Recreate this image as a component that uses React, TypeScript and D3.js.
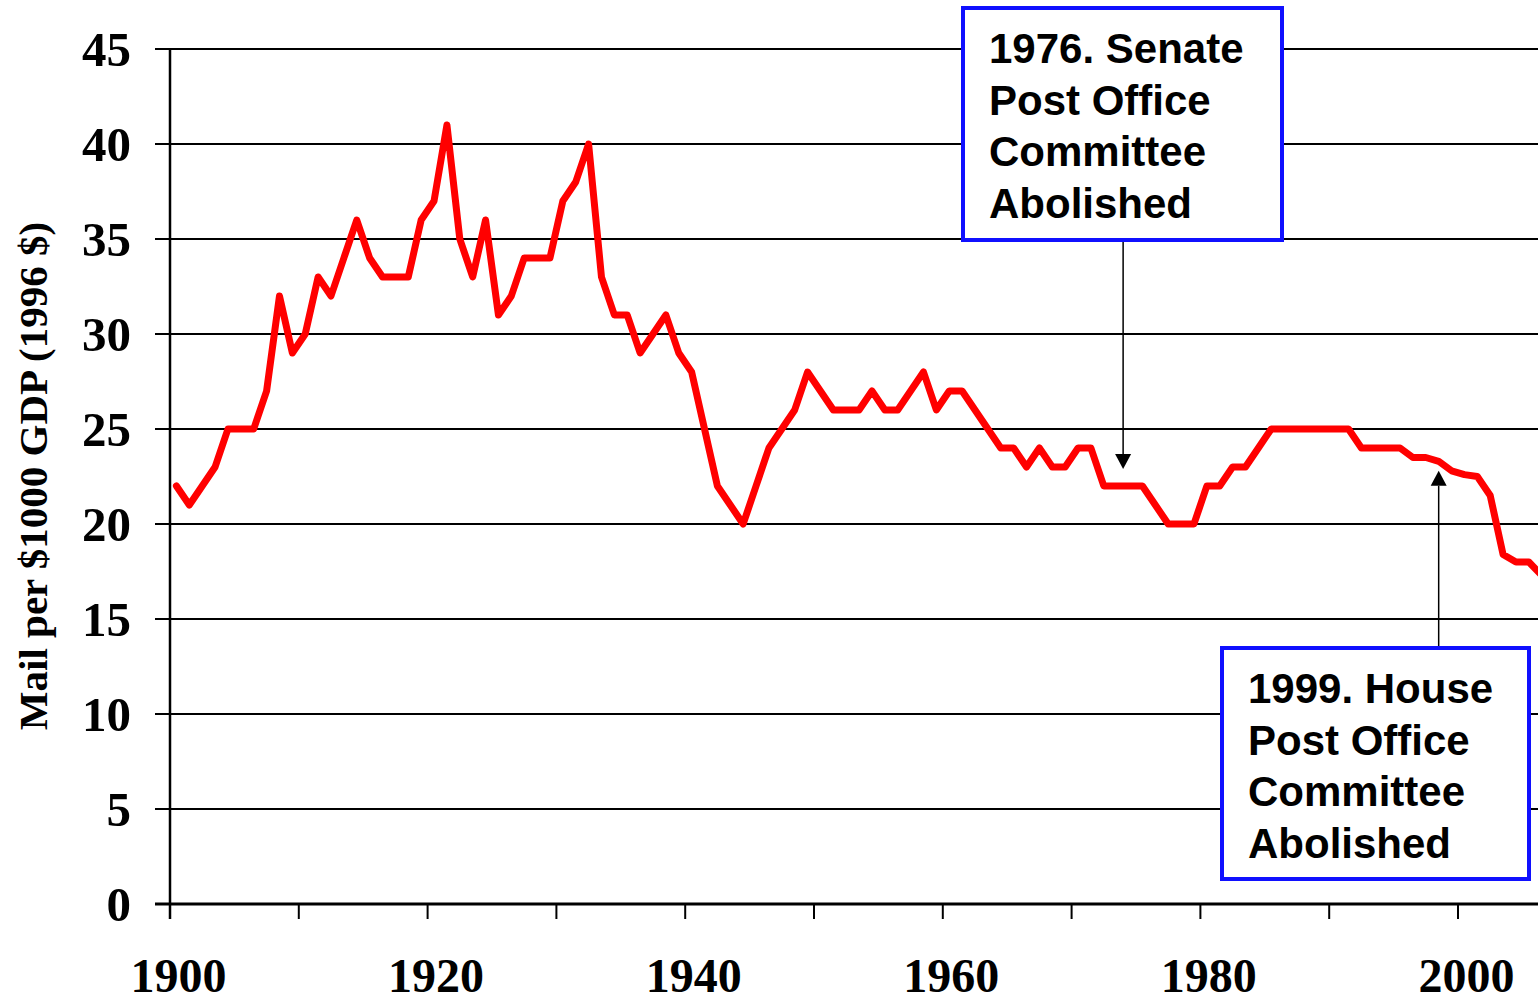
import React from 'react';
import * as d3 from 'd3';

// Mail volume per $1000 of GDP (1996 dollars), one value per year from 1900
const START_YEAR = 1900;
const mailPerGdp = [
  22, 21, 22, 23, 25, 25, 25, 27, 32, 29, // 1900s
  30, 33, 32, 34, 36, 34, 33, 33, 33, 36, // 1910s
  37, 41, 35, 33, 36, 31, 32, 34, 34, 34, // 1920s
  37, 38, 40, 33, 31, 31, 29, 30, 31, 29, // 1930s
  28, 25, 22, 21, 20, 22, 24, 25, 26, 28, // 1940s
  27, 26, 26, 26, 27, 26, 26, 27, 28, 26, // 1950s
  27, 27, 26, 25, 24, 24, 23, 24, 23, 23, // 1960s
  24, 24, 22, 22, 22, 22, 21, 20, 20, 20, // 1970s
  22, 22, 23, 23, 24, 25, 25, 25, 25, 25, // 1980s
  25, 25, 24, 24, 24, 24, 23.5, 23.5, 23.3, 22.8, // 1990s
  22.6, 22.5, 21.5, 18.4, 18, 18, 17.3, // 2000s
];
const years = d3.range(START_YEAR, START_YEAR + mailPerGdp.length);

const yTicks = [0, 5, 10, 15, 20, 25, 30, 35, 40, 45];
const xTickYears = [1900, 1910, 1920, 1930, 1940, 1950, 1960, 1970, 1980, 1990, 2000];
const xLabelYears = [1900, 1920, 1940, 1960, 1980, 2000];
const yTitle = 'Mail per $1000 GDP (1996 $)';

// call-out boxes: arrow tip sits on the line at (year, value)
const annotations = [
  { lines: ['1976. Senate', 'Post Office', 'Committee', 'Abolished'], year: 1974, edge: 'left', tipValue: 22.9, box: { x: 963, y: 8, w: 319, h: 232 }, dir: 'down' },
  { lines: ['1999. House', 'Post Office', 'Committee', 'Abolished'], year: 1998, edge: 'mid', tipValue: 22.8, box: { x: 1222, y: 648, w: 307, h: 231 }, dir: 'up' },
];

const W = 1538;
const H = 1000;
const LEFT = 170;
const STEP = 12.88; // px per year category

export default function App() {
  const x = d3.scaleBand<number>()
    .domain(years)
    .range([LEFT, LEFT + years.length * STEP])
    .paddingInner(0)
    .paddingOuter(0);
  const y = d3.scaleLinear().domain([0, 45]).range([904, 49]);

  const line = d3.line<number>()
    .x((_, i) => (x(years[i]) as number) + x.bandwidth() / 2)
    .y(d => y(d));

  const serif = '"Liberation Serif", "Times New Roman", serif';
  const sans = '"Liberation Sans", Arial, sans-serif';

  return (
    <svg width={W} height={H} style={{ position: 'absolute', left: 0, top: 0, background: '#fff' }}>
      {/* gridlines + y ticks */}
      {yTicks.map(t => (
        <g key={t}>
          {t > 0 && <line x1={LEFT - 15} x2={W} y1={y(t)} y2={y(t)} stroke="#000" strokeWidth={2} />}
          <text x={131} y={y(t)} dy="0.35em" textAnchor="end" fontFamily={serif} fontWeight="bold" fontSize={49}>{t}</text>
        </g>
      ))}

      {/* y axis */}
      <line x1={LEFT} x2={LEFT} y1={y(45)} y2={y(0) + 15} stroke="#000" strokeWidth={2.5} />
      {/* x axis */}
      <line x1={LEFT - 15} x2={W} y1={y(0)} y2={y(0)} stroke="#000" strokeWidth={3} />
      {xTickYears.map(yr => (
        <line key={yr} x1={x(yr)} x2={x(yr)} y1={y(0)} y2={y(0) + 15} stroke="#000" strokeWidth={2} />
      ))}
      {xLabelYears.map(yr => (
        <text key={yr} x={(x(yr) as number) + x.bandwidth() / 2 + 2} y={992} textAnchor="middle" fontFamily={serif} fontWeight="bold" fontSize={48}>{yr}</text>
      ))}

      <text transform={`translate(47,476) rotate(-90)`} textAnchor="middle" fontFamily={serif} fontWeight="bold" fontSize={41}>{yTitle}</text>

      {/* data line */}
      <path d={line(mailPerGdp) || ''} fill="none" stroke="#ff0000" strokeWidth={7} strokeLinejoin="round" strokeLinecap="round" />

      {/* annotations */}
      {annotations.map((a, i) => {
        const ax = (x(a.year) as number) + (a.edge === 'mid' ? x.bandwidth() / 2 : 0);
        const tipY = y(a.tipValue);
        const startY = a.dir === 'down' ? a.box.y + a.box.h : a.box.y;
        const headH = 15;
        const headW = 8;
        const baseY = a.dir === 'down' ? tipY - headH : tipY + headH;
        return (
          <g key={i}>
            <line x1={ax} x2={ax} y1={startY} y2={baseY} stroke="#000" strokeWidth={1.5} />
            <path d={`M${ax},${tipY} L${ax - headW},${baseY} L${ax + headW},${baseY} Z`} fill="#000" />
            <rect x={a.box.x} y={a.box.y} width={a.box.w} height={a.box.h} fill="#fff" stroke="#1010ff" strokeWidth={4} />
            {a.lines.map((l, j) => (
              <text key={j} x={a.box.x + 26} y={a.box.y + 55 + j * 51.5} fontFamily={sans} fontWeight="bold" fontSize={42}>{l}</text>
            ))}
          </g>
        );
      })}
    </svg>
  );
}
